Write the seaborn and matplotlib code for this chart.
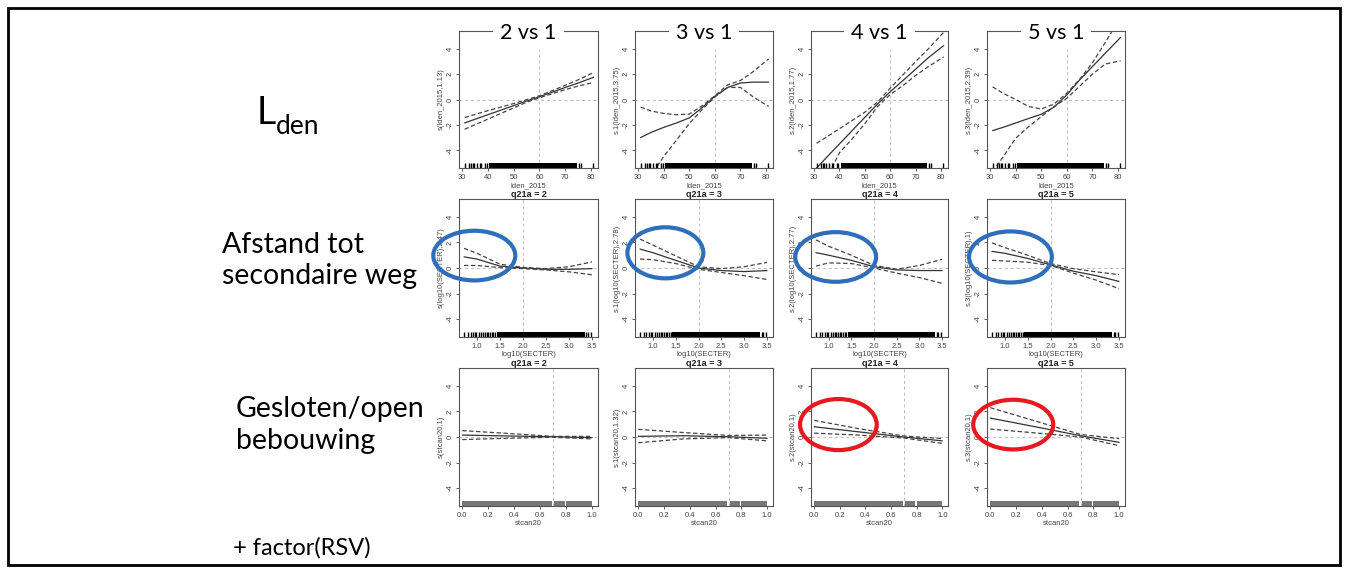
import pandas as pd
import matplotlib
matplotlib.use("Agg")
import matplotlib.pyplot as plt
from matplotlib.patches import Ellipse, Rectangle
import seaborn as sns

sns.set_theme(style="ticks")
plt.rcParams['font.family'] = ['Liberation Sans', 'DejaVu Sans']
plt.rcParams['axes.unicode_minus'] = False

## Data ##

groups = ["2 vs 1", "3 vs 1", "4 vs 1", "5 vs 1"]
q21a = [2, 3, 4, 5]
row_names = ["L", "Afstand tot\nsecondaire weg", "Gesloten/open\nbebouwing"]

# row 1: lden_2015
lden_x = [31, 35, 40, 45, 50, 55, 60, 65, 70, 75, 81]
lden_fit = [[-1.85, -1.56, -1.2, -0.84, -0.48, -0.12, 0.22, 0.58, 0.95, 1.3, 1.75],
            [-3.0, -2.6, -2.2, -1.85, -1.45, -0.65, 0.25, 0.95, 1.3, 1.37, 1.37],
            [-5.4, -4.55, -3.5, -2.45, -1.4, -0.35, 0.62, 1.5, 2.4, 3.3, 4.25],
            [-2.45, -2.2, -1.85, -1.5, -1.16, -0.6, 0.37, 1.55, 2.6, 3.65, 4.9]]
lden_upper = [[-1.42, -1.18, -0.88, -0.6, -0.32, -0.02, 0.3, 0.7, 1.12, 1.55, 2.13],
              [-0.6, -0.9, -1.1, -1.2, -1.15, -0.5, 0.3, 1.15, 1.5, 2.2, 3.2],
              [-3.45, -2.95, -2.3, -1.65, -1.0, -0.2, 0.9, 1.95, 3.0, 4.0, 5.3],
              [1.0, 0.5, 0.0, -0.55, -0.75, -0.35, 0.5, 1.6, 2.9, 4.5, 6.5]]
lden_lower = [[-2.35, -1.98, -1.55, -1.1, -0.66, -0.22, 0.14, 0.46, 0.78, 1.06, 1.35],
              [-7.0, -6.0, -4.5, -3.2, -1.9, -0.8, 0.2, 0.95, 0.95, 0.2, -0.55],
              [-7.8, -6.2, -4.2, -3.1, -1.9, -0.55, 0.4, 1.1, 1.9, 2.6, 3.35],
              [-5.7, -4.55, -3.05, -2.15, -1.35, -0.55, 0.1, 1.05, 2.0, 2.8, 3.05]]
lden_ylabels = ["s(lden_2015,1.13)", "s.1(lden_2015,3.75)",
                "s.2(lden_2015,1.77)", "s.3(lden_2015,2.39)"]
lden_rug = [31.0, 32.8, 33.4, 34.1, 34.7, 35.7, 37.0, 37.5, 38.9, 39.6, 75.2, 76.0, 80.8]
lden_rug_dense = [(40.5, 74.6)]

# row 2: log10(SECTER)
secter_x = [0.72, 1.0, 1.5, 2.0, 2.5, 3.0, 3.5]
secter_fit = [[0.87, 0.7, 0.15, 0.0, -0.1, -0.1, -0.05],
              [1.48, 1.2, 0.6, 0.0, -0.2, -0.28, -0.2],
              [1.2, 1.0, 0.6, 0.1, -0.15, -0.2, -0.2],
              [1.3, 1.15, 0.75, 0.25, -0.25, -0.6, -1.05]]
secter_upper = [[1.54, 1.15, 0.3, 0.05, -0.05, 0.1, 0.48],
                [2.26, 1.8, 0.95, 0.1, -0.05, 0.1, 0.44],
                [2.2, 1.7, 1.0, 0.2, -0.1, 0.2, 0.68],
                [1.96, 1.6, 1.0, 0.35, -0.05, -0.3, -0.52]]
secter_lower = [[0.2, 0.2, 0.03, -0.05, -0.15, -0.3, -0.53],
                [0.7, 0.65, 0.35, -0.1, -0.35, -0.6, -0.9],
                [0.15, 0.4, 0.35, 0.0, -0.4, -0.75, -1.2],
                [0.6, 0.55, 0.45, 0.2, -0.4, -0.95, -1.62]]
secter_ylabels = ["s(log10(SECTER),2.47)", "s.1(log10(SECTER),2.78)",
                  "s.2(log10(SECTER),2.77)", "s.3(log10(SECTER),1)"]
secter_rug = [0.72, 0.80, 0.86, 0.91, 0.96, 0.99, 1.05, 1.09, 1.14, 1.17, 1.21,
              1.25, 1.28, 1.32, 1.35, 1.39, 3.38, 3.42, 3.47]
secter_rug_dense = [(1.43, 3.35)]

# row 3: stcan20
stcan_x = [0.0, 0.35, 0.7, 1.0]
stcan_fit = [[0.15, 0.08, 0.02, -0.05],
             [0.05, 0.1, 0.02, -0.1],
             [0.8, 0.4, 0.0, -0.3],
             [1.48, 0.8, 0.1, -0.42]]
stcan_upper = [[0.5, 0.28, 0.05, 0.05],
               [0.6, 0.35, 0.12, 0.15],
               [1.3, 0.65, 0.08, -0.12],
               [2.3, 1.25, 0.2, -0.13]]
stcan_lower = [[-0.2, -0.1, -0.02, -0.15],
               [-0.45, -0.15, -0.05, -0.3],
               [0.3, 0.15, -0.08, -0.5],
               [0.62, 0.32, 0.0, -0.68]]
stcan_ylabels = ["s(stcan20,1)", "s.1(stcan20,1.32)", "s.2(stcan20,1)", "s.3(stcan20,1)"]
stcan_rug = []
stcan_rug_dense = [(0.0, 0.69), (0.71, 0.79), (0.80, 1.0)]

rows = [
    dict(x=lden_x, fit=lden_fit, up=lden_upper, lo=lden_lower, ylab=lden_ylabels,
         xlab="lden_2015", xlim=(28.8, 82.7), xticks=[30, 40, 50, 60, 70, 80], fmt="{:.0f}",
         vline=60, rug=lden_rug, dense=lden_rug_dense, rugcol="black"),
    dict(x=secter_x, fit=secter_fit, up=secter_upper, lo=secter_lower, ylab=secter_ylabels,
         xlab="log10(SECTER)", xlim=(0.61, 3.63), xticks=[1.0, 1.5, 2.0, 2.5, 3.0, 3.5],
         fmt="{:.1f}", vline=2.0, rug=secter_rug, dense=secter_rug_dense, rugcol="black"),
    dict(x=stcan_x, fit=stcan_fit, up=stcan_upper, lo=stcan_lower, ylab=stcan_ylabels,
         xlab="stcan20", xlim=(-0.025, 1.045), xticks=[0.0, 0.2, 0.4, 0.6, 0.8, 1.0],
         fmt="{:.1f}", vline=0.7, rug=stcan_rug, dense=stcan_rug_dense, rugcol="#777777"),
]

## Layout (pixels) ##
W, H = 1347, 571
col_px = [(459, 598), (635, 773), (811, 948), (987, 1125)]
row_px = [(31, 168), (199, 337), (368, 506)]

# highlighted regions (axes fraction): row, col, cx, cy, w, h, colour
blue = "#2F6EBA"
red = "#E5191E"
marks = [(1, 0, 0.11, 0.59, 0.59, 0.36, blue),
         (1, 1, 0.22, 0.61, 0.55, 0.37, blue),
         (1, 2, 0.18, 0.58, 0.59, 0.36, blue),
         (1, 3, 0.17, 0.58, 0.60, 0.37, blue),
         (2, 2, 0.20, 0.59, 0.56, 0.37, red),
         (2, 3, 0.19, 0.59, 0.58, 0.36, red)]

fig = plt.figure(figsize=(W / 100, H / 100), dpi=100)
ink = "#444444"
dash = (0, (3.5, 2))

axes = {}
for r, cfg in enumerate(rows):
    y0, y1 = row_px[r]
    for c in range(4):
        x0, x1 = col_px[c]
        ax = fig.add_axes([x0 / W, 1 - y1 / H, (x1 - x0) / W, (y1 - y0) / H])
        axes[(r, c)] = ax
        df = pd.DataFrame({"x": cfg["x"], "fit": cfg["fit"][c],
                           "upper": cfg["up"][c], "lower": cfg["lo"][c]})
        ax.axhline(0, color="#bbbbbb", lw=0.7, ls=(0, (3, 3)), zorder=1)
        ax.axvline(cfg["vline"], color="#bbbbbb", lw=0.7, ls=(0, (3, 3)), zorder=1)
        sns.lineplot(data=df, x="x", y="fit", ax=ax, color="#333333", lw=0.9)
        sns.lineplot(data=df, x="x", y="upper", ax=ax, color=ink, lw=0.9, linestyle=dash)
        sns.lineplot(data=df, x="x", y="lower", ax=ax, color=ink, lw=0.9, linestyle=dash)
        if cfg["rug"]:
            sns.rugplot(x=cfg["rug"], ax=ax, height=0.037, color="black", lw=0.7,
                        expand_margins=False)
        for a, b in cfg["dense"]:
            ax.axvspan(a, b, ymin=0, ymax=0.037, color=cfg["rugcol"], lw=0)
        ax.set_xlim(*cfg["xlim"])
        ax.set_ylim(-5.4, 5.4)
        ax.set_xticks(cfg["xticks"])
        ax.set_xticklabels([cfg["fmt"].format(t) for t in cfg["xticks"]])
        ax.set_yticks([-4, -2, 0, 2, 4])
        ax.set_yticklabels(["-4", "-2", "0", "2", "4"], rotation=90, va="center")
        ax.tick_params(labelsize=5.5, length=2.5, width=0.6, colors=ink, pad=1.5)
        for s in ax.spines.values():
            s.set_color("#555555")
            s.set_linewidth(0.8)
        ax.set_xlabel(cfg["xlab"], fontsize=5.5, color=ink, labelpad=1)
        ax.set_ylabel(cfg["ylab"][c], fontsize=5.5, color=ink, labelpad=1)
        if r == 0:
            ax.text(0.5, 0.985, groups[c], transform=ax.transAxes, ha="center", va="center",
                    fontsize=15.5, family="Lato", color="black", zorder=6,
                    bbox=dict(fc="white", ec="none", pad=5))
        else:
            ax.set_title("q21a = {}".format(q21a[c]), fontsize=6.5, fontweight="bold",
                         pad=1.5, color="#222222")

for r, c, cx, cy, w, h, col in marks:
    ax = axes[(r, c)]
    ax.add_patch(Ellipse((cx, cy), w, h, transform=ax.transAxes, fill=False,
                         ec=col, lw=3, clip_on=False, zorder=7))

## Row labels ##
def ftxt(x, y, s, size):
    fig.text(x / W, 1 - y / H, s, fontsize=size, family="Lato", color="black",
             va="baseline", ha="left")

ftxt(257, 124, row_names[0], 27)
ftxt(276, 134, "den", 19)
ftxt(222, 253, "Afstand tot", 20.5)
ftxt(222, 284, "secondaire weg", 20.5)
ftxt(236, 417, "Gesloten/open", 20.5)
ftxt(236, 449, "bebouwing", 20.5)
ftxt(233, 555, "+ factor(RSV)", 17)

fig.add_artist(Rectangle((8 / W, 1 - 565 / H), 1332 / W, 557 / H, transform=fig.transFigure,
                         fill=False, ec="black", lw=2))

plt.savefig("out.png", dpi=100)
